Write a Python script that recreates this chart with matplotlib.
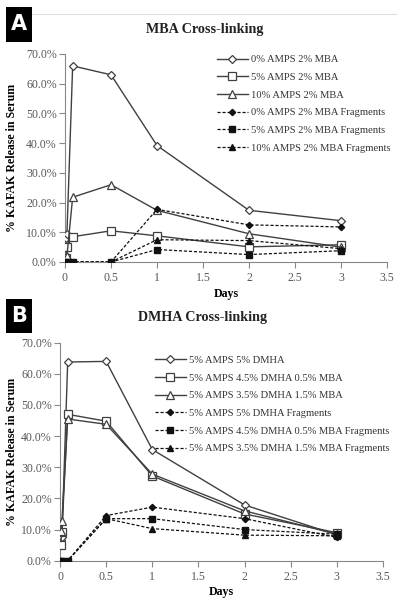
import matplotlib
matplotlib.use("Agg")
import matplotlib.pyplot as plt
from matplotlib.patches import Rectangle
from matplotlib.lines import Line2D

plt.rcParams['font.family'] = ['Liberation Serif', 'DejaVu Serif']

days = [0.0069, 0.0208, 0.0833, 0.5, 1, 2, 3]

# Panel A: MBA cross-linking (% release)
a_labels = ["0% AMPS 2% MBA", "5% AMPS 2% MBA", "10% AMPS 2% MBA",
            "0% AMPS 2% MBA Fragments", "5% AMPS 2% MBA Fragments",
            "10% AMPS 2% MBA Fragments"]
a_0amps = [8.0, 9.5, 66.0, 63.0, 39.2, 17.4, 13.9]
a_5amps = [1.5, 5.0, 8.5, 10.5, 8.8, 5.1, 5.8]
a_10amps = [0.5, 2.0, 21.8, 26.0, 17.4, 9.5, 5.0]
a_0frag = [0.0, 0.0, 0.0, 0.0, 17.7, 12.5, 11.8]
a_5frag = [0.0, 0.0, 0.0, 0.0, 4.2, 2.5, 3.8]
a_10frag = [0.0, 0.0, 0.0, 0.0, 7.5, 7.2, 4.5]

# Panel B: DMHA cross-linking (% release)
b_labels = ["5% AMPS 5% DMHA", "5% AMPS 4.5% DMHA 0.5% MBA",
            "5% AMPS 3.5% DMHA 1.5% MBA", "5% AMPS 5% DMHA Fragments",
            "5% AMPS 4.5% DMHA 0.5% MBA Fragments",
            "5% AMPS 3.5% DMHA 1.5% MBA Fragments"]
b_5dmha = [6.5, 7.5, 63.8, 64.0, 35.7, 17.9, 8.3]
b_45dmha = [5.0, 9.3, 47.0, 44.8, 27.2, 15.0, 9.0]
b_35dmha = [9.5, 12.8, 45.5, 43.8, 27.8, 16.0, 8.5]
b_5frag = [0.0, 0.0, 0.0, 14.5, 17.2, 13.5, 7.5]
b_45frag = [0.0, 0.0, 0.0, 13.5, 13.5, 10.0, 8.5]
b_35frag = [0.0, 0.0, 0.0, 13.5, 10.3, 8.2, 8.0]

xticks = [0, 0.5, 1, 1.5, 2, 2.5, 3, 3.5]
xticklabels = ["0", "0.5", "1", "1.5", "2", "2.5", "3", "3.5"]
yticks = [0, 10, 20, 30, 40, 50, 60, 70]
yticklabels = ["0.0%", "10.0%", "20.0%", "30.0%", "40.0%", "50.0%", "60.0%", "70.0%"]

W, H = 405, 599
fig = plt.figure(figsize=(W / 100, H / 100), dpi=100)
fig.patch.set_facecolor("white")

LC = "#404040"
TC = "#595959"


def draw_panel(ax, series, labels, legend_anchor):
    solid_markers = ["D", "s", "^"]
    msizes = [4.5, 5.5, 6]
    handles = []
    for i in range(3):
        h, = ax.plot(days, series[i], color=LC, lw=1.0, marker=solid_markers[i],
                     ms=msizes[i], mfc="white", mec=LC, mew=0.9, label=labels[i],
                     zorder=3)
        handles.append(h)
    fmarkers = ["D", "s", "^"]
    fsizes = [3.2, 4.2, 4.6]
    for i in range(3):
        h, = ax.plot(days, series[3 + i], color="#111111", lw=0.9, ls=(0, (2.5, 1.5)),
                     marker=fmarkers[i], ms=fsizes[i], mfc="#111111", mec="#111111",
                     label=labels[3 + i], zorder=4)
        handles.append(h)
    ax.set_xlim(0, 3.5)
    ax.set_ylim(0, 70)
    ax.set_xticks(xticks)
    ax.set_xticklabels(xticklabels)
    ax.set_yticks(yticks)
    ax.set_yticklabels(yticklabels)
    for s in ["top", "right"]:
        ax.spines[s].set_visible(False)
    for s in ["left", "bottom"]:
        ax.spines[s].set_color("#888888")
        ax.spines[s].set_linewidth(0.8)
    ax.tick_params(axis="both", colors="#888888", labelcolor=TC, labelsize=8.6,
                   length=4, width=0.8, direction="out")
    ax.tick_params(axis="y", pad=2)
    ax.set_xlabel("Days", fontsize=8.6, fontweight="bold", labelpad=1)
    ax.set_ylabel("% KAFAK Release in Serum", fontsize=8.6, fontweight="bold", labelpad=2)
    leg = ax.legend(handles=handles, loc="upper left", bbox_to_anchor=legend_anchor,
                    frameon=False, fontsize=7.6, handlelength=2.9, handletextpad=0.3,
                    labelspacing=0.78, borderaxespad=0, borderpad=0)
    for t in leg.get_texts():
        t.set_color("#333333")
    return leg


# Panel A
axA = fig.add_axes([65 / W, 1 - 262 / H, (387 - 65) / W, (262 - 54) / H])
draw_panel(axA, [a_0amps, a_5amps, a_10amps, a_0frag, a_5frag, a_10frag],
           a_labels, (0.472, 0.995))
axA.yaxis.set_label_coords(-0.145, 0.5)
axA.xaxis.set_label_coords(0.5, -0.125)

# Panel B
axB = fig.add_axes([60 / W, 1 - 560.7 / H, (383 - 60) / W, (560.7 - 342.7) / H])
draw_panel(axB, [b_5dmha, b_45dmha, b_35dmha, b_5frag, b_45frag, b_35frag],
           b_labels, (0.294, 0.94))
axB.yaxis.set_label_coords(-0.13, 0.5)
axB.xaxis.set_label_coords(0.5, -0.115)

# Titles
fig.text(205 / W, 1 - 29 / H, "MBA Cross-linking", ha="center", va="center",
         fontsize=10.2, fontweight="bold", color="#222222")
fig.text(203 / W, 1 - 318 / H, "DMHA Cross-linking", ha="center", va="center",
         fontsize=10.2, fontweight="bold", color="#222222")

# Top rule line
fig.add_artist(Line2D([32 / W, 396 / W], [1 - 14 / H, 1 - 14 / H], color="#dddddd", lw=0.8))

# Panel letter boxes
for (x0, y0, x1, y1, letter) in [(6, 7, 32, 42, "A"), (6, 299, 32, 333, "B")]:
    fig.add_artist(Rectangle((x0 / W, 1 - y1 / H), (x1 - x0) / W, (y1 - y0) / H,
                             facecolor="black", edgecolor="none", transform=fig.transFigure))
    fig.text((x0 + x1) / 2 / W, 1 - (y0 + y1) / 2 / H, letter, ha="center", va="center",
             fontsize=15, fontweight="bold", color="white", family="DejaVu Sans")

fig.savefig("out.png", dpi=100, facecolor="white")
